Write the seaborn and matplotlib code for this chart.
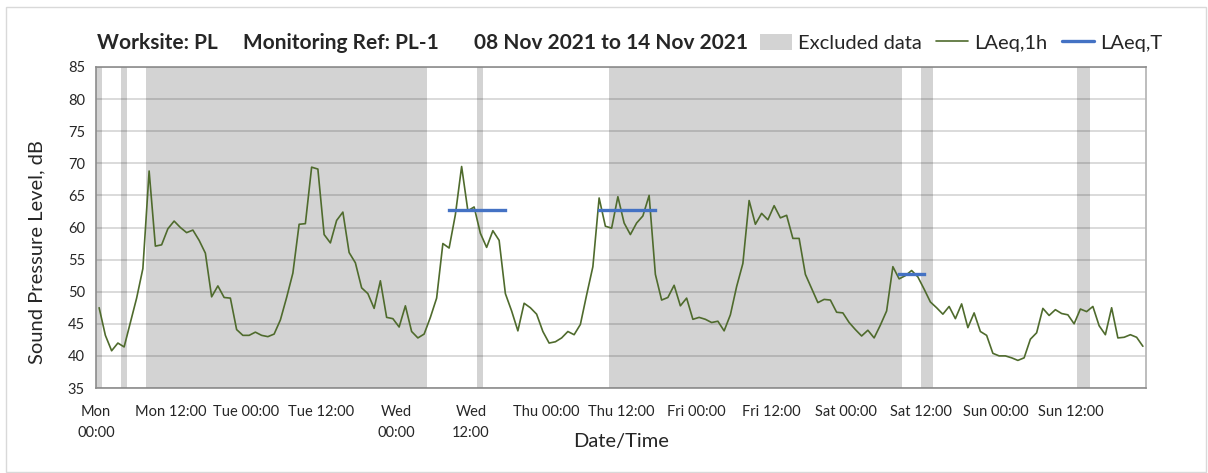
"""
Weekly noise monitoring chart: hourly LAeq with excluded periods shaded.
"""

import numpy as np
import pandas as pd
import matplotlib.pyplot as plt
from matplotlib.patches import Patch, Rectangle
from matplotlib.lines import Line2D
import seaborn as sns

# hourly LAeq,1h values, 08 Nov 2021 00:00 onwards (168 h)
laeq_1h = [
    47.5, 43.2, 40.8, 42.0, 41.4, 45.2, 49.0, 53.6, 68.8, 57.1, 57.3, 59.8,
    61.0, 60.0, 59.2, 59.6, 58.0, 56.0, 49.2, 50.9, 49.1, 49.0, 44.1, 43.2,
    43.2, 43.7, 43.2, 43.0, 43.4, 45.6, 49.1, 52.9, 60.5, 60.6, 69.4, 69.1,
    58.9, 57.6, 61.1, 62.4, 56.1, 54.5, 50.6, 49.7, 47.4, 51.7, 46.0, 45.8,
    44.5, 47.8, 43.8, 42.8, 43.4, 46.0, 49.0, 57.5, 56.8, 62.0, 69.5, 62.6,
    63.2, 59.1, 56.9, 59.5, 58.0, 49.7, 47.0, 43.9, 48.2, 47.5, 46.5, 43.8,
    42.0, 42.2, 42.8, 43.8, 43.3, 44.9, 49.5, 53.9, 64.6, 60.2, 59.9, 64.8,
    60.7, 58.9, 60.7, 61.8, 65.0, 52.7, 48.7, 49.1, 51.0, 47.8, 49.0, 45.7,
    46.0, 45.7, 45.2, 45.4, 43.9, 46.4, 50.8, 54.4, 64.2, 60.5, 62.2, 61.2,
    63.4, 61.5, 61.9, 58.3, 58.3, 52.7, 50.5, 48.3, 48.8, 48.7, 46.8, 46.7,
    45.2, 44.1, 43.1, 44.0, 42.8, 44.8, 47.0, 53.9, 52.0, 52.5, 53.3, 52.3,
    50.4, 48.4, 47.5, 46.5, 47.7, 45.8, 48.1, 44.4, 46.7, 43.8, 43.2, 40.4,
    40.0, 40.0, 39.7, 39.3, 39.7, 42.6, 43.6, 47.4, 46.3, 47.2, 46.6, 46.4,
    45.0, 47.3, 46.9, 47.7, 44.7, 43.3, 47.5, 42.8, 42.9, 43.3, 42.9, 41.5,
]

# excluded periods (start / end)
excluded_start = ["2021-11-08 00:00", "2021-11-08 04:00", "2021-11-08 08:00",
                  "2021-11-10 13:00", "2021-11-11 10:00", "2021-11-13 12:00",
                  "2021-11-14 13:00"]
excluded_end = ["2021-11-08 01:00", "2021-11-08 05:00", "2021-11-10 05:00",
                "2021-11-10 14:00", "2021-11-13 09:00", "2021-11-13 14:00",
                "2021-11-14 15:00"]

# LAeq,T periods
laeq_t_start = ["2021-11-10 08:30", "2021-11-11 08:30", "2021-11-13 08:30"]
laeq_t_end = ["2021-11-10 17:30", "2021-11-11 17:30", "2021-11-13 12:30"]
laeq_t_level = [62.8, 62.8, 52.7]

tick_labels = ["Mon\n00:00", "Mon 12:00", "Tue 00:00", "Tue 12:00",
               "Wed\n00:00", "Wed\n12:00", "Thu 00:00", "Thu 12:00",
               "Fri 00:00", "Fri 12:00", "Sat 00:00", "Sat 12:00",
               "Sun 00:00", "Sun 12:00", ""]

GREEN = "#4f6b2d"
BLUE = "#4472c4"
SHADE = "#d3d3d3"
AXGREY = "#8c8c8c"

sns.set_theme(style="white")
plt.rcParams["font.family"] = ["Lato", "DejaVu Sans"]

times = pd.date_range("2021-11-08 00:30", periods=len(laeq_1h), freq="h")
df = pd.DataFrame({"time": times, "LAeq,1h": laeq_1h})

rows = []
for i, (s, e, v) in enumerate(zip(laeq_t_start, laeq_t_end, laeq_t_level)):
    rows.append({"period": i, "time": pd.Timestamp(s), "level": v})
    rows.append({"period": i, "time": pd.Timestamp(e), "level": v})
df_t = pd.DataFrame(rows)

fig = plt.figure(figsize=(12.08, 4.73), dpi=100)
fig.patches.append(Rectangle((6 / 1208, 1 / 473), 1200 / 1208, 465 / 473,
                             transform=fig.transFigure, fill=False,
                             edgecolor="#d9d9d9", linewidth=1))
ax = fig.add_axes([96 / 1208, 1 - 388 / 473, 1050 / 1208, 321 / 473])

for s, e in zip(excluded_start, excluded_end):
    ax.axvspan(pd.Timestamp(s), pd.Timestamp(e), color=SHADE, lw=0, zorder=0)

sns.lineplot(data=df, x="time", y="LAeq,1h", ax=ax, color=GREEN,
             linewidth=1.2, zorder=3)
sns.lineplot(data=df_t, x="time", y="level", units="period", estimator=None,
             ax=ax, color=BLUE, linewidth=2.4, solid_capstyle="projecting",
             zorder=4)

start = pd.Timestamp("2021-11-08")
end = pd.Timestamp("2021-11-15")
ax.set_xlim(start, end)
ax.set_ylim(35, 85)
ax.set_yticks(range(35, 90, 5))
ax.set_xticks(pd.date_range(start, end, freq="12h"), tick_labels)
ax.set_xticks(pd.date_range(start, end, freq="24h"), minor=True)

ax.set_axisbelow(True)
ax.grid(False)
ax.grid(axis="y", which="major", color="black", alpha=0.17, lw=1.2)
ax.grid(axis="x", which="minor", color="black", alpha=0.17, lw=1.2)

ax.tick_params(axis="both", which="major", direction="out", length=4,
               width=1, color=AXGREY, labelsize=10.5, pad=4)
ax.tick_params(axis="x", which="minor", length=0)
ax.tick_params(axis="x", pad=8)
for t in ax.get_xticklabels():
    t.set_linespacing(1.7)

for side in ["left", "bottom", "top"]:
    ax.spines[side].set_color(AXGREY)
    ax.spines[side].set_linewidth(1.2)
ax.spines["right"].set_color("#b5b5b5")

ax.set_ylabel("Sound Pressure Level, dB", fontsize=14.5)
ax.yaxis.set_label_coords(-0.048, 0.424)
ax.set_xlabel("Date/Time", fontsize=14.5)
ax.xaxis.set_label_coords(0.5, -0.14)

title_y = 1 - 49 / 473
fig.text(97 / 1208, title_y, "Worksite: PL", fontsize=15,
         fontweight="bold", va="baseline")
fig.text(243 / 1208, title_y, "Monitoring Ref: PL-1", fontsize=15,
         fontweight="bold", va="baseline")
fig.text(748 / 1208, title_y, "08 Nov 2021 to 14 Nov 2021", fontsize=15,
         fontweight="bold", va="baseline", ha="right")

handles = [Patch(facecolor=SHADE, edgecolor="none"),
           Line2D([], [], color=GREEN, lw=1.2),
           Line2D([], [], color=BLUE, lw=2.4)]
fig.legend(handles, ["Excluded data", "LAeq,1h", "LAeq,T"],
           loc="center left", bbox_to_anchor=(760 / 1208, 1 - 43 / 473),
           ncol=3, frameon=False, fontsize=14.5, handlelength=1.6,
           handleheight=0.8, handletextpad=0.3, columnspacing=0.7,
           borderpad=0, borderaxespad=0)

fig.savefig("out.png", dpi=100)
